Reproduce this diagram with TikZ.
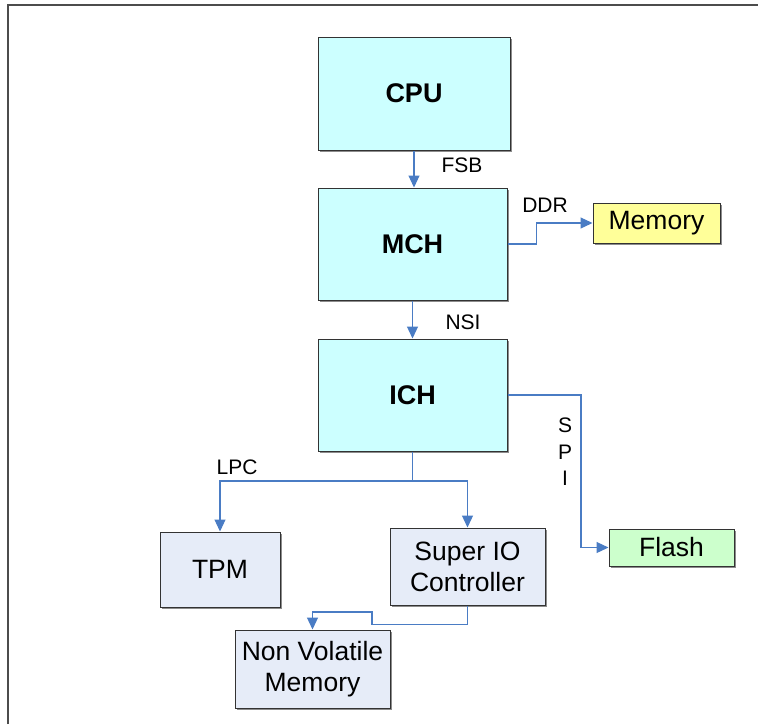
\documentclass[tikz,border=0pt]{standalone}
\usepackage{fontspec}
\setmainfont{Liberation Sans}
\usetikzlibrary{arrows.meta,shadows}
\definecolor{chipfill}{HTML}{CCFFFF}
\definecolor{memfill}{HTML}{FFFF99}
\definecolor{flashfill}{HTML}{CCFFCC}
\definecolor{devfill}{HTML}{E6ECF8}
\definecolor{buscol}{HTML}{4A7CC4}
\tikzset{
  box/.style={draw=black!80, line width=1pt, inner sep=0pt, align=center,
    font=\fontsize{26.5}{31}\selectfont,
    drop shadow={shadow xshift=1.5pt, shadow yshift=-1.5pt, fill=black!45, opacity=1}},
  chip/.style={box, fill=chipfill, font=\fontsize{27}{31}\selectfont\bfseries},
  bus/.style={draw=buscol, line width=1.2pt, -{Triangle[width=11pt,length=12pt]}},
  buslabel/.style={font=\fontsize{21}{24}\selectfont}
}
\begin{document}
\begin{tikzpicture}[x=1pt, y=-1pt]
\useasboundingbox (0,0) rectangle (758,724);
\draw[black!70, line width=1.5pt](8,724)--(8,5)--(758,5);
% chips
\node[chip, minimum width=192pt, minimum height=113pt](cpu) at (414,93.5){CPU};
\node[chip, minimum width=189pt, minimum height=112pt](mch) at (412.5,244){MCH};
\node[chip, minimum width=189pt, minimum height=112pt](ich) at (412.5,395){ICH};
% devices
\node[box, fill=memfill, minimum width=127pt, minimum height=40pt](mem) at (656.5,223){Memory};
\node[box, fill=flashfill, minimum width=125pt, minimum height=37pt](flash) at (671.5,547.5){Flash};
\node[box, fill=devfill, minimum width=120pt, minimum height=75pt](tpm) at (220,569.5){TPM};
\node[box, fill=devfill, minimum width=155pt, minimum height=77pt, font=\fontsize{26.5}{31}\selectfont](sio) at (467.5,566.5){Super IO\\Controller};
\node[box, fill=devfill, minimum width=155pt, minimum height=78pt, font=\fontsize{26.5}{31}\selectfont](nvm) at (312.5,669){Non Volatile\\Memory};
% buses
\draw[bus](cpu.south)--(cpu.south |- mch.north);
\node[buslabel](fsb) at (462,165){FSB};
\draw[bus](mch.east)--++(29,0)|-(mem.west);
\node[buslabel](ddr) at (545,205){DDR};
\draw[bus](mch.south)--(mch.south |- ich.north);
\node[buslabel](nsi) at (463,322){NSI};
\coordinate(spibend) at (581,547.5);
\draw[bus](ich.east)-|(spibend)--(flash.west);
\node[buslabel, align=center, font=\fontsize{21}{26.5}\selectfont](spi) at (565,452){S\\P\\I};
\coordinate(lpc) at (412.5,481);
\draw[bus](ich.south)--(lpc)-|(tpm.north);
\draw[bus](lpc)-|(sio.north);
\node[buslabel](lpclabel) at (237,467){LPC};
\coordinate(nvbend) at (372,612);
\draw[bus](sio.south)--++(0,19)-|(nvbend)-|(nvm.north);
\end{tikzpicture}
\end{document}
